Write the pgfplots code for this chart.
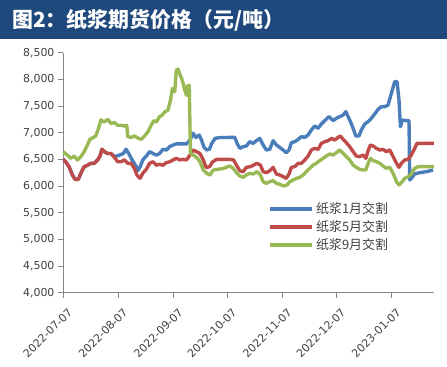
\documentclass[border=0pt]{standalone}
\usepackage{fontspec}
\setmainfont{DejaVu Sans}
\newfontfamily\cjk{Noto Sans CJK SC}
\usepackage{pgfplots}
\pgfplotsset{compat=1.18}
\definecolor{bar}{RGB}{31,73,125}
\definecolor{cb}{RGB}{74,126,187}
\definecolor{cr}{RGB}{190,75,72}
\definecolor{cg}{RGB}{152,185,84}
\definecolor{axg}{RGB}{134,134,134}
\definecolor{txt}{RGB}{64,64,64}
\begin{document}
\begin{tikzpicture}
\useasboundingbox (-63bp,-74.3bp) rectangle (384bp,292.7bp);
\fill[bar] (-63bp,253.7bp) rectangle (384bp,292.7bp);
\node[anchor=west, text=white, inner sep=0pt, font=\cjk\bfseries\fontsize{21}{23}\selectfont] at (-51bp,272.7bp) {图2：纸浆期货价格（元/吨）};
\begin{axis}[
  scale only axis, width=371bp, height=240bp,
  at={(0bp,0bp)}, anchor=south west,
  xmin=0, xmax=207.8, ymin=4000, ymax=8500,
  axis x line*=bottom, axis y line*=left,
  axis line style={axg, line width=0.8pt, -},
  xtick={0,31,62,92,123,153,184},
  xticklabels={2022-07-07,2022-08-07,2022-09-07,2022-10-07,2022-11-07,2022-12-07,2023-01-07},
  ytick={4000,4500,...,8500},
  scaled y ticks=false,
  /pgf/number format/1000 sep={,},
  /pgf/number format/assume math mode=true,
  tick align=outside, major tick length=5bp,
  tick style={axg, line width=0.8pt},
  ticklabel style={font=\fontsize{11}{13}\selectfont, text=txt},
  xticklabel style={xshift=8bp, yshift=-12bp, rotate=45, anchor=east, inner sep=1bp},
  legend style={at={(0.553,0.385)}, anchor=north west, draw=none, fill=none,
    font=\cjk\fontsize{13}{15}\selectfont, text=txt, row sep=1.5bp, inner sep=0pt},
  legend cell align=left,
  legend image code/.code={\draw[#1, line width=3.8pt] (0bp,0bp) -- (42bp,0bp);},
  every axis plot/.append style={line width=3.4pt, line join=round, no markers},
]
\addplot[cb] coordinates {(0,6500)(1.5,6455)(3.4,6360)(5.3,6205)(6.8,6125)(8.6,6125)(10,6240)(11.8,6360)(13.7,6390)(15.6,6425)(17.5,6425)(19.4,6490)(20.7,6560)(21.8,6690)(23.1,6645)(25,6610)(26.9,6610)
(28.8,6550)(31.6,6580)(33.8,6610)(35.3,6690)(36.8,6610)(38.7,6490)(40.6,6390)(41.9,6290)(43.2,6360)(44.7,6490)(46.6,6560)(48.5,6645)(50.4,6610)(52.3,6580)(54.1,6610)(56,6690)(57.9,6675)(59.8,6740)(61.7,6770)(63.5,6790)(66.4,6790)(69.2,6790)(71.1,6860)(72.9,6990)(74.4,6910)(76.3,6955)(77.6,6860)(79,6725)(80.5,6675)(82,6690)(83.3,6800)(85.2,6895)(88,6910)(91.7,6910)(93.4,6913)(96.2,6913)(97.5,6800)(99,6707)(100.9,6738)(102.7,6750)(104.6,6832)(106.5,6800)(108.3,6850)(110.2,6894)(112.1,6770)(113.9,6675)(115.8,6688)(117.7,6850)(119.5,6770)(121.4,6725)(123.3,6675)(125.1,6626)(126.6,6675)(127.9,6813)(129.8,6832)(131.7,6875)(133.5,6925)(135.4,6913)(137.3,6957)(139.1,7050)(141,7126)(142.9,7082)(144.7,7163)(146.6,7226)(149,7301)(151.3,7226)(153.1,7270)(155,7301)(156.9,7332)(158.4,7394)(159.7,7301)(161,7207)(162.5,7082)(164,6938)(165.8,6938)(167.1,7050)(169,7163)(170.9,7207)(172.7,7270)(174.1,7332)(175.2,7376)(176.5,7438)(178.3,7488)(180.2,7488)(182.1,7520)(183.9,7738)(185.8,7957)(187.1,7957)(188.2,7613)(189,7113)(190.1,7238)(192.3,7226)(193.8,7226)(194.2,6113)(195.1,6144)(197,6226)(199.8,6251)(203.5,6269)(207.3,6301)};
\addlegendentry{纸浆1月交割}
\addplot[cr] coordinates {(0,6500)(1.5,6455)(3.4,6360)(5.3,6205)(6.8,6125)(8.6,6125)(10,6240)(11.8,6360)(13.7,6390)(15.6,6425)(17.5,6425)(19.4,6490)(20.7,6560)(21.8,6690)(23.1,6645)(25,6610)(26.9,6610)(28.8,6540)(30.6,6455)(32.5,6455)(34.4,6490)(36.3,6425)(38.2,6425)(40,6330)(41.4,6205)(43.2,6145)(44.7,6240)(46.6,6310)(48.5,6425)(50.4,6455)(52.3,6390)(54.1,6410)(56,6390)(57.9,6440)(59.8,6455)(61.7,6490)(63.5,6520)(65.4,6490)(67.3,6500)(69.2,6490)(71.1,6580)(72.9,6675)(74.8,6645)(76.7,6610)(78.6,6490)(80.1,6350)(82,6360)(83.8,6455)(86.1,6500)(89.8,6500)(93.4,6500)(95.6,6488)(97.1,6394)(99,6288)(100.9,6269)(102.7,6351)(105,6363)(106.8,6394)(108.7,6426)(110.6,6394)(112.1,6269)(113.9,6251)(115.8,6288)(117.7,6351)(119.5,6226)(121.4,6207)(123.3,6176)(125.1,6144)(126.6,6226)(127.9,6351)(129.8,6363)(131.7,6426)(133.5,6426)(135.4,6488)(137.3,6563)(139.1,6676)(141,6707)(142.9,6688)(144.7,6800)(146.6,6832)(148.5,6851)(150.4,6894)(152.2,6863)(154.1,6913)(155.4,6938)(156.9,6876)(158.7,6813)(160.6,6738)(162.5,6644)(164.3,6563)(166.2,6551)(168.1,6582)(169.6,6519)(170.9,6663)(172.2,6769)(173.7,6751)(175.5,6707)(177.4,6676)(179.3,6688)(181.1,6644)(183,6676)(184.9,6551)(186.8,6426)(188.2,6351)(189.5,6426)(191.4,6488)(193.3,6501)(195.1,6582)(197,6707)(198.3,6801)(200.7,6801)(204.5,6801)(207.7,6801)};
\addlegendentry{纸浆5月交割}
\addplot[cg] coordinates {(0,6644)(2.4,6580)(4.3,6520)(6.2,6560)(8.1,6490)(10,6550)(11.8,6640)(13.7,6770)(15,6875)(16.5,6900)(18.4,6940)(19.9,7080)(21.2,7240)(23.1,7200)(25,7250)(26.9,7175)(28.8,7190)(30.6,7140)(32.5,7140)(34.4,7125)(35.7,7140)(36.3,6925)(38.2,6910)(40,6940)(41.9,6900)(43.8,6875)(45.7,6940)(47.6,7020)(49.4,7140)(50.8,7225)(52.3,7200)(54.1,7300)(55.6,7330)(57,7390)(58.8,7425)(60.2,7610)(61.3,7830)(62.6,7770)(63.5,8175)(64.5,8190)(65.4,8100)(66.4,8020)(67.3,7925)(68.2,7800)(69.2,7700)(69.7,7875)(70.7,7890)(71.4,6610)(72.9,6580)(74.8,6540)(76.7,6455)(78.6,6300)(80.5,6240)(82.3,6205)(84.2,6300)(86.1,6310)(89.8,6330)(93.4,6376)(95.3,6332)(97.1,6251)(99,6188)(100.9,6163)(102.7,6207)(104.6,6238)(106.5,6226)(108.7,6269)(110.6,6207)(112.1,6082)(113.9,6051)(115.8,6082)(117.7,6101)(119.5,6051)(121.4,6032)(123.6,6001)(125.5,6019)(127,6082)(128.9,6113)(130.7,6144)(132.6,6163)(134.5,6207)(136.3,6269)(138.2,6332)(140.1,6394)(141.9,6426)(143.8,6476)(145.7,6519)(147.5,6563)(149.4,6601)(151.3,6582)(153.1,6626)(155,6676)(156.9,6613)(158.7,6551)(160.6,6488)(162.5,6394)(164.3,6351)(166.2,6313)(168.1,6301)(169.6,6301)(170.9,6426)(172.2,6519)(173.7,6476)(175.5,6457)(177.4,6426)(179.3,6376)(181.1,6332)(183,6351)(184.9,6238)(186.8,6082)(188.2,6019)(189.5,6063)(191.4,6144)(193.3,6176)(195.1,6226)(197,6332)(198.9,6363)(201.7,6363)(207.7,6363)};
\addlegendentry{纸浆9月交割}
\end{axis}
\end{tikzpicture}
\end{document}
